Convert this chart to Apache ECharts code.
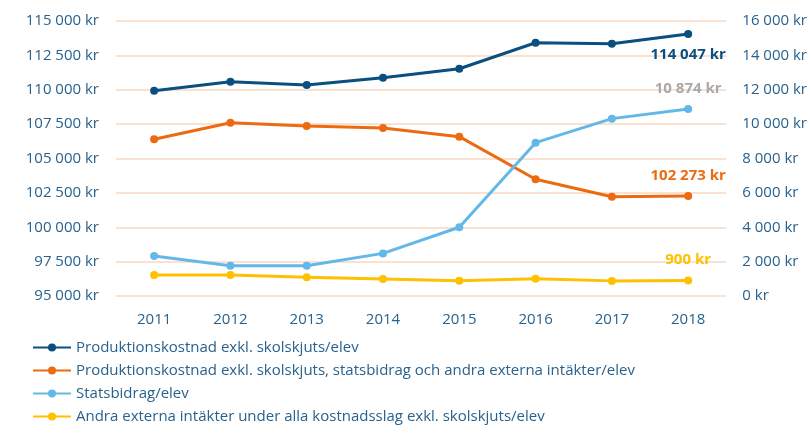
<!DOCTYPE html>
<html lang="sv">
<head>
    <meta charset="UTF-8">
    <title>Produktionskostnad per elev</title>
    <style>
        html, body { margin: 0; padding: 0; background: #fff; }
        #chart { width: 810px; height: 428px; }
    </style>
</head>
<body>
<div id="chart"></div>
<script src="https://cdn.jsdelivr.net/npm/echarts@6/dist/echarts.min.js"></script>
<script>
    'use strict';
    // år
    let years = ['2011', '2012', '2013', '2014', '2015', '2016', '2017', '2018'];
    // vänster axel
    let prodKostnad = [109930, 110590, 110350, 110880, 111530, 113420, 113350, 114047];
    let prodKostnadNetto = [106400, 107600, 107360, 107220, 106590, 103490, 102220, 102273];
    // höger axel
    let statsbidrag = [2330, 1760, 1760, 2480, 4000, 8920, 10320, 10874];
    let andraIntakter = [1220, 1220, 1090, 990, 890, 1010, 880, 900];

    let seriesNames = [
        'Produktionskostnad exkl. skolskjuts/elev',
        'Produktionskostnad exkl. skolskjuts, statsbidrag och andra externa intäkter/elev',
        'Statsbidrag/elev',
        'Andra externa intäkter under alla kostnadsslag exkl. skolskjuts/elev'
    ];
    let colors = ['#0b4f80', '#ec6b12', '#64b8e8', '#ffc000'];

    function kr(v) {
        return String(v).replace(/\B(?=(\d{3})+(?!\d))/g, ' ') + ' kr';
    }

    // etikett bara på sista punkten
    function withLastLabel(arr, pos, color) {
        return arr.map(function (v, i) {
            if (i !== arr.length - 1) return v;
            return {
                value: v,
                label: {
                    show: true, position: pos, distance: 9,
                    formatter: kr(v), color: color,
                    fontWeight: 'bold', fontSize: 15, fontFamily: 'Open Sans'
                }
            };
        });
    }

    function lineSeries(i, data, yIndex) {
        return {
            name: seriesNames[i],
            type: 'line',
            yAxisIndex: yIndex,
            data: data,
            symbol: 'circle',
            symbolSize: 8,
            lineStyle: { width: 3, color: colors[i] },
            itemStyle: { color: colors[i] },
            emphasis: { disabled: true }
        };
    }

    let axisText = { color: '#28628d', fontSize: 15, fontFamily: 'Open Sans' };

    // en legend per rad så att den inte bryts i två kolumner
    let legendCenters = [347, 370, 393, 416];
    let legends = seriesNames.map(function (name, i) {
        return {
            orient: 'vertical',
            left: 32,
            top: legendCenters[i] - 7,
            padding: 0,
            itemWidth: 38,
            itemHeight: 10,
            itemGap: 0,
            textStyle: { color: '#28628d', fontSize: 15, fontFamily: 'Open Sans' },
            data: [name]
        };
    });

    let option = {
        animation: false,
        color: colors,
        grid: { left: 116, right: 83, top: 21, bottom: 132 },
        legend: legends,
        xAxis: {
            type: 'category',
            data: years,
            axisLine: { show: false },
            axisTick: { show: false },
            axisLabel: Object.assign({ margin: 16 }, axisText)
        },
        yAxis: [
            {
                type: 'value',
                min: 95000, max: 115000, interval: 2500,
                axisLine: { show: false },
                axisTick: { show: false },
                splitLine: { lineStyle: { color: '#fbe1cf', width: 2 } },
                axisLabel: Object.assign({ margin: 17, formatter: kr }, axisText)
            },
            {
                type: 'value',
                min: 0, max: 16000, interval: 2000,
                axisLine: { show: false },
                axisTick: { show: false },
                splitLine: { show: false },
                axisLabel: Object.assign({ margin: 16, formatter: kr }, axisText)
            }
        ],
        series: [
            lineSeries(0, withLastLabel(prodKostnad, 'bottom', colors[0]), 0),
            lineSeries(1, withLastLabel(prodKostnadNetto, 'top', colors[1]), 0),
            lineSeries(2, withLastLabel(statsbidrag, 'top', '#a9a9a9'), 1),
            lineSeries(3, withLastLabel(andraIntakter, 'top', colors[3]), 1)
        ]
    };

    let myChart = echarts.init(document.getElementById('chart'));
    myChart.setOption(option);
</script>
</body>
</html>
